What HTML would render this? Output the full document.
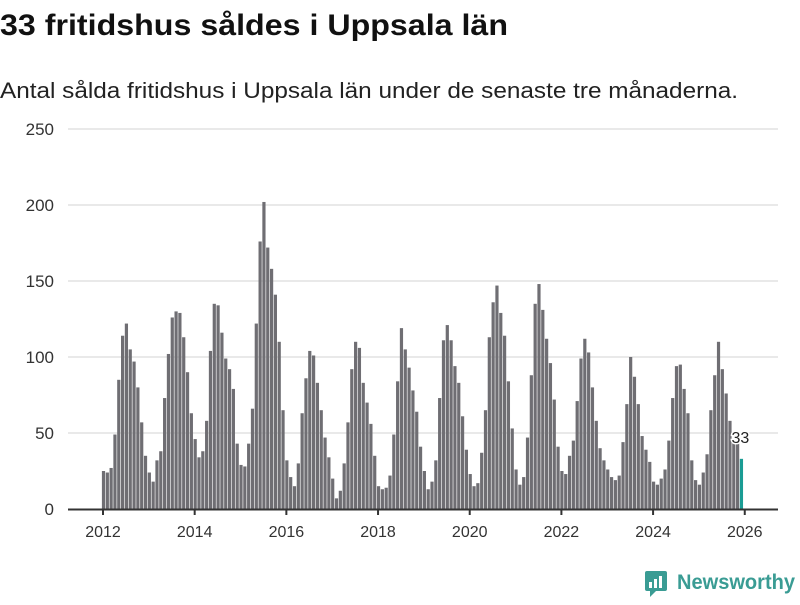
<!DOCTYPE html>
<html><head><meta charset="utf-8"><style>
body{margin:0;background:#fff;width:800px;height:600px;overflow:hidden;font-family:"Liberation Sans","DejaVu Sans",sans-serif}
</style></head><body>
<svg width="800" height="600" xmlns="http://www.w3.org/2000/svg">
<text x="0" y="35" font-size="30" font-weight="bold" fill="#111" textLength="508" lengthAdjust="spacingAndGlyphs">33 fritidshus såldes i Uppsala län</text>
<text x="0" y="98" font-size="22" fill="#222" textLength="738" lengthAdjust="spacingAndGlyphs">Antal sålda fritidshus i Uppsala län under de senaste tre månaderna.</text>
<g id="grid"></g>
<g id="bars"></g>
<g id="xaxis"></g>
<g>
<rect x="645" y="571" width="22" height="20" rx="2" fill="#3a9c94"/>
<polygon points="650,591 656,591 650,597" fill="#3a9c94"/>
<rect x="649" y="582" width="3" height="6" fill="#fff"/><rect x="654" y="579" width="3" height="9" fill="#fff"/><rect x="659" y="576" width="3" height="12" fill="#fff"/>
<text x="677" y="589" font-size="21" font-weight="bold" fill="#3a9c94" textLength="118" lengthAdjust="spacingAndGlyphs">Newsworthy</text>
</g>
</svg>
<script>
const values=[25,24,27,49,85,114,122,105,97,80,57,35,
24,18,32,38,73,102,126,130,129,113,90,63,
46,34,38,58,104,135,134,116,99,92,79,43,
29,28,43,66,122,176,202,172,158,141,110,65,
32,21,15,30,63,86,104,101,83,65,47,34,
20,7,12,30,57,92,110,106,83,70,56,35,
15,13,14,22,49,84,119,105,93,78,64,41,
25,13,18,32,73,111,121,111,94,83,61,39,
23,15,17,37,65,113,136,147,129,114,84,53,
26,16,21,47,88,135,148,131,112,96,72,41,
25,23,35,45,71,99,112,103,80,58,40,32,
26,21,19,22,44,69,100,87,69,48,39,31,
18,16,20,26,45,73,94,95,79,63,32,19,
16,24,36,65,88,110,92,76,58,45,43,33];
const yTicks=[0,50,100,150,200,250];
const xTicks=[2012,2014,2016,2018,2020,2022,2024,2026];
const startYear=2012;
const NS="http://www.w3.org/2000/svg";
const y=v=>509-v*1.52;
const x=m=>103.5+m*3.82;
const xy=yr=>103+(yr-startYear)*12*3.82;
function mk(t,a,p){const e=document.createElementNS(NS,t);for(const k in a)e.setAttribute(k,a[k]);p.appendChild(e);return e;}
const grid=document.getElementById('grid');
yTicks.forEach(v=>{
 if(v>0){const l=mk('line',{x1:68,x2:778,y1:y(v),y2:y(v),stroke:'#e2e2e2','stroke-width':1.5},grid);
 
 }
 const t=mk('text',{x:54,y:y(v)+6,'text-anchor':'end','font-size':17,fill:'#333'},grid);
 t.textContent=v;
 
 
});
const bars=document.getElementById('bars');
values.forEach((v,i)=>{
 const last=i===values.length-1;
 const r=mk('rect',{x:x(i)-1.6,y:y(v),width:3.2,height:509-y(v),fill:last?'#1a9c94':'#6f6e73'},bars);
 
 
 if(last){
  const t=mk('text',{x:x(i)-10,y:y(v)-16,'font-size':16,fill:'#222',stroke:'#fff','stroke-width':3,'paint-order':'stroke'},bars);
  t.textContent=v;
  
  
 }
});
const xa=document.getElementById('xaxis');
const base=mk('line',{x1:68,x2:778,y1:509.5,y2:509.5,stroke:'#333','stroke-width':2},xa);


xTicks.forEach(yr=>{
 const px=xy(yr);
 const tk=mk('line',{x1:px,x2:px,y1:509,y2:515,stroke:'#333','stroke-width':2},xa);
 
 
 const t=mk('text',{x:px,y:537,'text-anchor':'middle','font-size':16,fill:'#333'},xa);
 t.textContent=yr;
 
 
});
</script>
</body></html>
